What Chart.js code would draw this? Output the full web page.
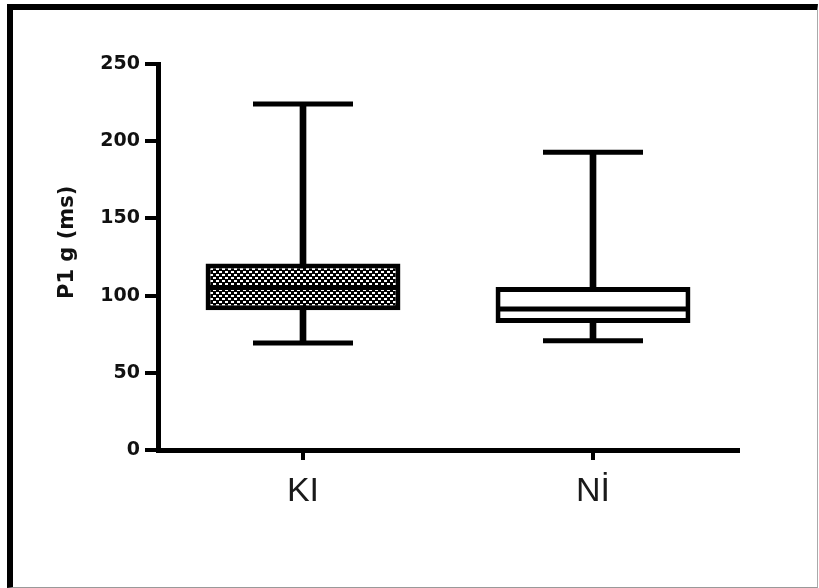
<!DOCTYPE html>
<html>
<head>
<meta charset="utf-8">
<script src="https://cdn.jsdelivr.net/npm/chart.js@4.4.0/dist/chart.umd.min.js"></script>
<style>
body { margin: 0; background: #fff; }
#wrap { position: relative; width: 819px; height: 588px; }
#frame { position: absolute; left: 7px; top: 4px; width: 811px; height: 584px; box-sizing: border-box;
  border-top: 6px solid #000; border-left: 6px solid #000; border-right: 1px solid #aaa; border-bottom: 1px solid #999;
  pointer-events: none; }
</style>
</head>
<body>
<div id="wrap">
  <canvas id="grafico" width="819" height="588"></canvas>
  <div id="frame"></div>
</div>
<script>
const grupos = ['KI', 'Nİ'];
const minimos = [69.3, 70.8];
const q1 = [90.5, 82.2];
const medianas = [105.2, 91.4];
const q3 = [120.8, 105.6];
const maximos = [224.1, 192.8];
const ticksY = [0, 50, 100, 150, 200, 250];

window.onload = function () {
    const grfc = document.getElementById('grafico');

    // checkered fill of the first box
    const tela = document.createElement('canvas');
    tela.width = 6;
    tela.height = 6;
    const c = tela.getContext('2d');
    c.fillStyle = '#fff';
    c.fillRect(0, 0, 6, 6);
    c.fillStyle = '#000';
    c.fillRect(0, 0, 3, 3);
    c.fillRect(3, 3, 3, 3);
    c.fillRect(0, 0, 6, 1);
    c.fillRect(0, 3, 6, 1);
    const xadrez = c.createPattern(tela, 'repeat');

    new Chart(grfc, {
        type: 'bar',
        data: {
            labels: grupos,
            datasets: [{
                label: 'bigode',
                data: grupos.map((g, i) => [minimos[i], maximos[i]]),
                backgroundColor: '#000',
                borderWidth: 0,
                barThickness: 6,
                grouped: false,
                order: 3
            }, {
                label: 'caixa',
                data: grupos.map((g, i) => [q1[i], q3[i]]),
                backgroundColor: [xadrez, '#fff'],
                borderColor: '#000',
                borderWidth: 5,
                borderSkipped: false,
                grouped: false,
                barPercentage: 0.672,
                categoryPercentage: 1,
                order: 2
            }, {
                type: 'line',
                label: 'mediana',
                data: medianas,
                showLine: false,
                pointStyle: 'line',
                pointRadius: 95,
                pointBorderWidth: 5,
                pointBorderColor: '#000',
                order: 1
            }, {
                type: 'line',
                label: 'minimo',
                data: minimos,
                showLine: false,
                pointStyle: 'line',
                pointRadius: 50,
                pointBorderWidth: 5,
                pointBorderColor: '#000',
                order: 1
            }, {
                type: 'line',
                label: 'maximo',
                data: maximos,
                showLine: false,
                pointStyle: 'line',
                pointRadius: 50,
                pointBorderWidth: 5,
                pointBorderColor: '#000',
                order: 1
            }]
        },
        options: {
            responsive: false,
            animation: false,
            events: [],
            layout: {
                autoPadding: false,
                padding: { left: 52, top: 64, right: 81, bottom: 0 }
            },
            plugins: {
                legend: { display: false },
                tooltip: { enabled: false }
            },
            scales: {
                x: {
                    afterFit: s => { s.height = 138; },
                    border: { display: true, color: '#000', width: 5 },
                    grid: { offset: false, drawOnChartArea: false, drawTicks: true, tickLength: 10, lineWidth: 4, color: '#000' },
                    ticks: { color: '#1a1a1a', padding: 11, font: { family: 'Liberation Sans', size: 34 } }
                },
                y: {
                    min: ticksY[0],
                    max: ticksY[ticksY.length - 1],
                    afterFit: s => { s.width = 106; },
                    border: { display: true, color: '#000', width: 5 },
                    grid: { drawOnChartArea: false, drawTicks: true, tickLength: 13, lineWidth: 4, color: '#000' },
                    ticks: {
                        stepSize: ticksY[1] - ticksY[0],
                        color: '#111',
                        padding: 5,
                        font: { family: 'DejaVu Sans', weight: 'bold', size: 19 }
                    },
                    title: {
                        display: true,
                        text: '    P1 g (ms)',
                        color: '#111',
                        padding: { top: 3, bottom: 0 },
                        font: { family: 'DejaVu Sans', weight: 'bold', size: 21 }
                    }
                }
            }
        }
    });
}
</script>
</body>
</html>
